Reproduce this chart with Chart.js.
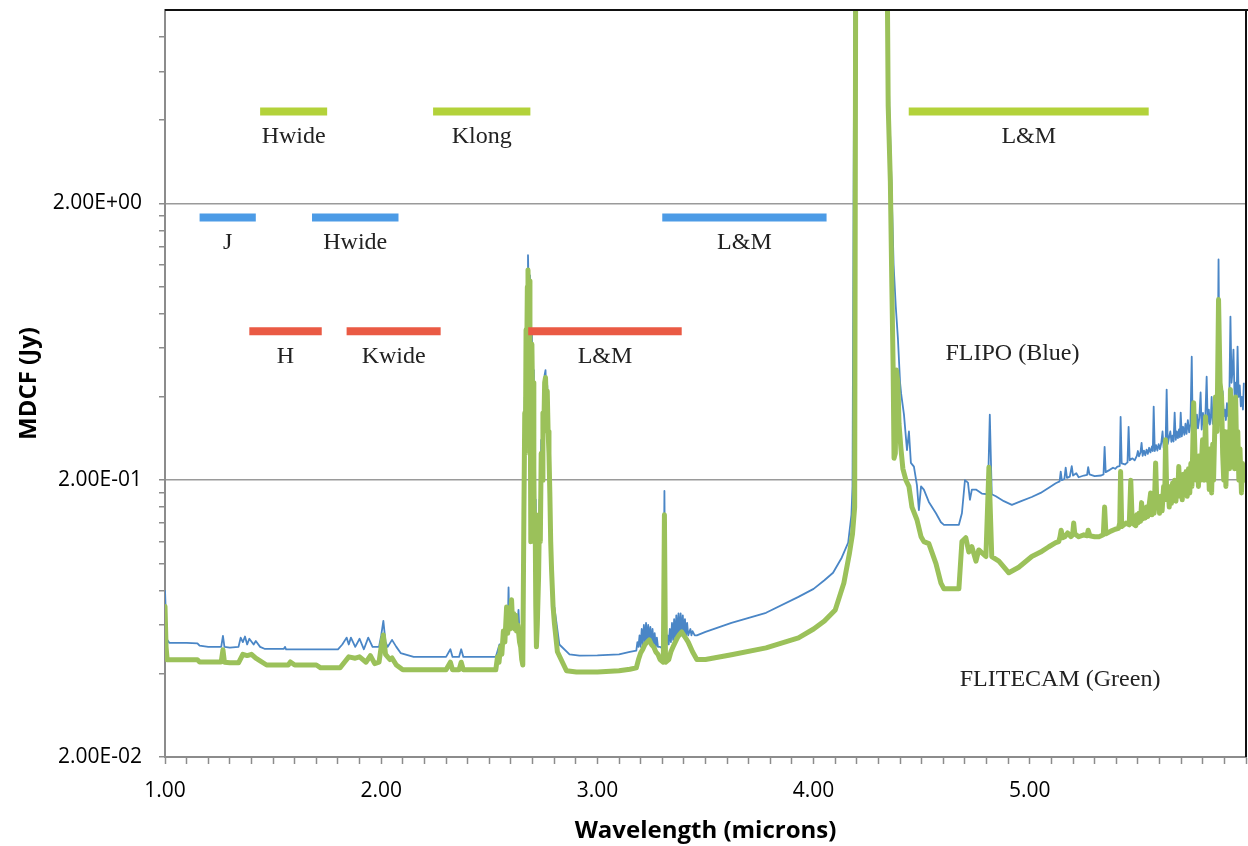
<!DOCTYPE html>
<html>
<head>
<meta charset="utf-8">
<script src="https://cdn.jsdelivr.net/npm/chart.js@4.4.1/dist/chart.umd.min.js"></script>
<style>
html,body{margin:0;padding:0;background:#ffffff;}
#wrap{width:1248px;height:846px;position:relative;}
canvas{display:block;}
</style>
</head>
<body>
<div id="wrap"><canvas id="c" width="1248" height="846"></canvas></div>
<script>
// ---------- DATA ----------
const flipoWavelength = [
1.000,1.005,1.010,1.020,1.100,1.150,1.160,1.200,1.260,1.268,1.275,1.300,1.340,1.350,1.360,1.370,1.380,1.390,1.410,1.420,
1.440,1.460,1.550,1.555,1.560,1.800,1.820,1.840,1.850,1.860,1.880,1.900,1.920,1.940,1.960,1.990,2.000,2.010,2.020,2.030,
2.050,2.070,2.090,2.150,2.300,2.320,2.330,2.360,2.370,2.380,2.530,
2.547,2.555,2.562,2.570,2.578,2.585,2.589,2.593,2.598,2.603,2.607,2.612,2.617,2.621,2.626,2.630,2.635,2.640,2.645,2.649,2.655,
2.660,2.664,2.667,2.670,2.673,2.676,2.679,2.682,2.685,2.688,2.690,2.692,2.694,2.697,2.700,2.703,2.706,2.709,2.712,2.715,2.720,
2.724,2.728,2.732,2.736,2.740,2.744,2.748,2.752,2.756,2.760,2.764,2.768,2.772,2.776,2.780,2.784,2.788,2.795,2.806,2.824,
2.871,2.917,3.000,3.100,3.150,3.180,
3.185,3.190,3.195,3.200,3.205,3.210,3.215,3.220,3.225,3.230,3.235,3.240,3.245,3.250,3.255,3.260,3.265,3.270,3.275,3.280,3.290,3.305,3.310,3.315,
3.320,3.325,3.330,3.335,3.340,3.345,3.350,3.355,3.360,3.365,3.370,3.375,3.380,3.385,3.390,3.395,3.400,3.405,3.410,3.415,3.420,3.430,3.435,3.440,3.450,3.460,
3.500,3.620,3.780,3.930,4.000,4.050,4.090,4.130,4.160,4.175,4.180,4.185,4.190,
4.339,4.350,4.360,4.370,4.380,4.390,4.400,4.405,4.418,4.432,4.441,4.450,4.464,4.478,4.487,4.497,4.510,4.533,4.566,4.589,
4.603,4.672,4.686,4.700,4.714,4.723,4.732,4.751,4.778,4.806,4.815,4.824,4.843,4.880,4.917,
4.960,5.009,5.050,5.088,5.120,5.138,5.143,5.148,5.160,5.166,5.172,5.185,5.194,5.200,5.215,5.226,5.250,5.265,5.270,5.276,
5.300,5.330,5.341,5.346,5.351,5.370,5.385,5.395,5.405,5.416,5.420,5.425,5.440,5.452,5.457,5.462,5.475,5.485,
5.495,5.500,5.505,5.512,5.517,5.522,5.528,5.534,5.540,5.546,
5.552,5.558,5.565,5.569,5.573,5.578,5.584,5.590,5.596,5.602,
5.608,5.614,5.619,5.624,5.628,5.633,5.638,5.644,5.650,5.655,
5.660,5.665,5.670,5.675,5.680,5.685,5.690,5.694,5.698,5.703,
5.709,5.715,5.720,5.725,5.731,5.737,5.743,5.749,5.753,5.758,
5.763,5.768,5.773,5.778,5.784,5.790,5.795,5.801,5.806,5.812,
5.818,5.823,5.828,5.833,5.838,5.841,5.846,5.852,5.858,5.864,
5.869,5.873,5.877,5.882,5.887,5.892,5.897,5.902,5.907,5.912,
5.917,5.923,5.928,5.933,5.938,5.942,5.947,5.952,5.956,5.961,
5.966,5.971,5.976,5.981,5.986,5.990
];
const flipoMdcf = [
0.080,0.062,0.053,0.0517,0.0517,0.0515,0.0505,0.0500,0.0500,0.0548,0.0500,0.0497,0.0500,0.0540,0.0520,0.0545,0.0510,0.0535,0.0510,0.0525,
0.0500,0.0492,0.0492,0.0500,0.0490,0.0490,0.0510,0.0540,0.0510,0.0540,0.0500,0.0535,0.0490,0.0540,0.0500,0.0500,0.0550,0.0621,0.0520,0.0500,
0.0530,0.0500,0.0475,0.0460,0.0460,0.0490,0.0460,0.0460,0.0490,0.0460,0.0460,
0.051,0.049,0.054,0.052,0.060,0.056,0.082,0.058,0.064,0.058,0.069,0.060,0.066,0.058,0.064,0.057,0.068,0.055,0.053,0.051,0.050,
0.20,0.40,0.30,0.80,0.65,1.10,1.30,1.00,1.10,0.70,0.35,0.15,0.55,0.70,0.45,0.50,0.25,0.15,0.17,0.08,0.05,
0.06,0.10,0.17,0.14,0.28,0.22,0.38,0.33,0.48,0.50,0.40,0.44,0.33,0.28,0.20,0.14,0.10,0.075,0.065,0.051,
0.0470,0.0465,0.0466,0.0470,0.0480,0.0485,
0.052,0.050,0.055,0.050,0.058,0.051,0.060,0.052,0.061,0.052,0.060,0.052,0.059,0.051,0.058,0.051,0.056,0.050,0.054,0.050,0.050,0.049,0.183,0.050,
0.051,0.055,0.051,0.058,0.052,0.061,0.053,0.063,0.053,0.065,0.054,0.066,0.055,0.066,0.055,0.065,0.055,0.063,0.055,0.061,0.055,0.058,0.055,0.057,0.055,0.055,
0.0566,0.0610,0.0664,0.0758,0.0810,0.0870,0.0926,0.105,0.119,0.150,0.190,2.2,20,
20,4.5,2.4,1.2,0.85,0.65,0.45,0.41,0.345,0.257,0.300,0.231,0.224,0.192,0.156,0.190,0.185,0.167,0.152,0.141,
0.138,0.138,0.152,0.200,0.196,0.170,0.185,0.185,0.179,0.178,0.345,0.178,0.175,0.168,0.163,
0.168,0.174,0.180,0.188,0.195,0.198,0.215,0.200,0.202,0.222,0.204,0.206,0.225,0.208,0.212,0.205,0.208,0.209,0.223,0.210,
0.207,0.208,0.210,0.264,0.214,0.218,0.222,0.220,0.224,0.225,0.339,0.230,0.228,0.232,0.312,0.236,0.240,0.236,
0.245,0.255,0.244,0.252,0.273,0.245,0.256,0.246,0.258,0.249,
0.262,0.252,0.265,0.255,0.369,0.255,0.268,0.256,0.270,0.259,
0.272,0.300,0.262,0.278,0.265,0.425,0.270,0.285,0.300,0.275,
0.290,0.276,0.351,0.280,0.300,0.284,0.305,0.286,0.351,0.288,
0.312,0.292,0.320,0.294,0.330,0.298,0.320,0.559,0.330,0.300,
0.340,0.305,0.345,0.308,0.335,0.415,0.305,0.350,0.310,0.340,
0.473,0.320,0.360,0.318,0.345,0.400,0.320,0.360,0.325,0.380,
0.500,1.255,0.500,0.450,0.380,0.420,0.340,0.360,0.330,0.380,
0.340,0.400,0.780,0.450,0.500,0.593,0.400,0.450,0.370,0.608,
0.400,0.440,0.370,0.400,0.360,0.450
];
const flitecamWavelength = [
1.000,1.005,1.010,1.150,1.160,1.260,1.268,1.275,1.300,1.340,1.360,1.380,1.400,1.420,1.440,1.470,1.570,1.580,1.600,1.700,
1.720,1.810,1.830,1.850,1.880,1.900,1.930,1.950,1.970,1.990,2.000,2.010,2.020,2.040,2.050,2.070,2.100,2.300,2.320,2.330,
2.360,2.370,2.380,2.530,
2.538,2.545,2.552,2.558,2.565,2.572,2.580,2.585,2.590,2.595,2.603,2.608,2.613,2.617,2.622,2.626,2.632,2.640,2.645,2.650,2.655,
2.660,2.664,2.667,2.670,2.673,2.676,2.679,2.682,2.685,2.688,2.690,2.692,2.694,2.697,2.700,2.703,2.706,2.709,2.712,2.715,2.718,
2.722,2.728,2.732,2.736,2.740,2.744,2.748,2.752,2.756,2.760,2.764,2.768,2.772,2.776,2.780,2.784,2.788,2.795,2.801,2.815,
2.857,2.903,3.000,3.100,3.150,3.180,
3.190,3.200,3.210,3.220,3.230,3.240,3.250,3.260,3.270,3.280,3.290,3.305,3.310,3.315,
3.330,3.340,3.350,3.360,3.370,3.380,3.390,3.400,3.410,3.420,3.440,3.460,3.500,
3.620,3.780,3.930,4.000,4.050,4.100,4.140,4.165,4.180,4.190,4.195,
4.339,4.345,4.355,4.362,4.368,4.372,4.378,4.383,4.390,4.395,4.404,4.413,4.427,4.441,4.455,4.478,4.497,4.510,4.533,4.566,
4.589,4.603,4.672,4.686,4.704,4.718,4.732,4.751,4.764,4.797,4.811,4.824,4.857,4.903,
4.949,5.009,5.050,5.088,5.120,5.134,5.140,5.145,5.152,5.162,5.175,5.190,5.198,5.203,5.208,5.226,5.250,5.265,5.270,5.278,
5.300,5.320,5.340,5.346,5.352,5.375,5.395,5.410,5.416,5.420,5.425,5.445,5.460,5.467,5.474,
5.490,5.495,5.500,5.505,5.512,5.517,5.522,5.528,5.534,5.540,
5.546,5.553,5.559,5.565,5.570,5.575,5.582,5.588,5.594,5.600,
5.606,5.612,5.619,5.624,5.628,5.634,5.640,5.645,5.650,5.655,
5.660,5.664,5.670,5.676,5.680,5.684,5.689,5.695,5.700,5.705,
5.711,5.718,5.723,5.728,5.734,5.740,5.745,5.750,5.758,5.764,
5.770,5.775,5.780,5.785,5.790,5.799,5.806,5.813,5.819,5.825,
5.830,5.836,5.841,5.846,5.850,5.859,5.866,5.873,5.880,5.887,
5.892,5.897,5.902,5.907,5.912,5.919,5.924,5.928,5.934,5.938,
5.942,5.947,5.952,5.958,5.962,5.967,5.972,5.979,5.984,5.990
];
const flitecamMdcf = [
0.070,0.050,0.0449,0.0449,0.0441,0.0441,0.0488,0.0440,0.0438,0.0438,0.0470,0.0465,0.0470,0.0455,0.0445,0.0430,0.0430,0.0441,0.0430,0.0430,
0.0420,0.0420,0.0440,0.0460,0.0455,0.0460,0.0440,0.0465,0.0435,0.0440,0.0500,0.0552,0.0470,0.0450,0.0456,0.0430,0.0413,0.0413,0.0440,0.0413,
0.0413,0.0440,0.0413,0.0413,
0.046,0.044,0.050,0.047,0.057,0.052,0.0697,0.056,0.065,0.058,0.074,0.060,0.066,0.058,0.065,0.057,0.060,0.052,0.050,0.045,0.043,
0.15,0.35,0.25,0.70,0.55,1.00,1.15,0.90,1.05,0.60,0.30,0.12,0.50,0.62,0.40,0.45,0.22,0.12,0.15,0.07,0.05,
0.06,0.09,0.15,0.12,0.25,0.20,0.35,0.30,0.45,0.47,0.38,0.42,0.30,0.25,0.18,0.12,0.095,0.07,0.061,0.048,
0.0410,0.0406,0.0406,0.0410,0.0415,0.0420,
0.0450,0.0475,0.0490,0.0510,0.0520,0.0530,0.0510,0.0500,0.0480,0.0470,0.0450,0.0440,0.150,0.0440,
0.0450,0.0480,0.0500,0.0520,0.0540,0.0555,0.0566,0.0550,0.0535,0.0520,0.0480,0.0450,0.0450,
0.0468,0.0496,0.0539,0.0580,0.0620,0.0680,0.0850,0.108,0.128,0.160,20,
20,4.5,2.4,1.0,0.50,0.24,0.25,0.50,0.45,0.32,0.26,0.22,0.20,0.19,0.16,0.144,0.125,0.120,0.118,0.100,
0.085,0.081,0.081,0.120,0.124,0.110,0.115,0.102,0.112,0.106,0.223,0.106,0.102,0.0926,
0.097,0.106,0.110,0.115,0.119,0.120,0.125,0.132,0.124,0.125,0.129,0.125,0.127,0.140,0.128,0.125,0.127,0.126,0.132,0.126,
0.125,0.125,0.127,0.160,0.128,0.131,0.133,0.134,0.140,0.215,0.136,0.140,0.138,0.200,0.140,
0.137,0.150,0.140,0.152,0.142,0.166,0.145,0.158,0.146,0.160,
0.148,0.165,0.180,0.150,0.168,0.152,0.231,0.160,0.172,0.152,
0.175,0.155,0.190,0.170,0.280,0.170,0.185,0.160,0.190,0.165,
0.195,0.170,0.200,0.168,0.195,0.175,0.224,0.175,0.205,0.170,
0.210,0.180,0.215,0.175,0.220,0.180,0.230,0.190,0.381,0.250,
0.200,0.240,0.190,0.245,0.200,0.280,0.200,0.339,0.200,0.250,
0.185,0.260,0.180,0.270,0.200,0.400,0.300,0.900,0.450,0.400,
0.250,0.200,0.300,0.190,0.260,0.300,0.220,0.425,0.250,0.300,
0.350,0.220,0.400,0.220,0.300,0.200,0.260,0.180,0.230,0.200
];

// Filter bands (wavelength ranges in microns, plotted at a fixed MDCF level)
const flitecamFilterNames = ['Hwide', 'Klong', 'L&M'];
const flitecamFilterStart = [1.44, 2.24, 4.44];
const flitecamFilterEnd   = [1.75, 2.69, 5.55];
const flitecamFilterLevel = 4.3;

const flipoBlueFilterNames = ['J', 'Hwide', 'L&M'];
const flipoBlueFilterStart = [1.16, 1.68, 3.30];
const flipoBlueFilterEnd   = [1.42, 2.08, 4.06];
const flipoBlueFilterLevel = 1.78;

const flipoRedFilterNames = ['H', 'Kwide', 'L&M'];
const flipoRedFilterStart = [1.39, 1.84, 2.68];
const flipoRedFilterEnd   = [1.725, 2.275, 3.39];
const flipoRedFilterLevel = 0.69;

// Axis ticks
const yMajorTicks = [0.02, 0.2, 2];
const yMinorTicks = [0.04, 0.06, 0.08, 0.1, 0.12, 0.14, 0.16, 0.18, 0.4, 0.6, 0.8, 1.0, 1.2, 1.4, 1.6, 1.8, 4, 6, 8];
const xMajorTicks = [1, 2, 3, 4, 5];

// Instrument notes
const instrumentNotes = ['FLIPO (Blue)', 'FLITECAM (Green)'];
const instrumentNoteAt = [[4.92, 0.545], [5.14, 0.0361]];

// ---------- STYLE ----------
const COLORS = {
  flipoLine: '#4a86c6',
  flitecamLine: '#9bc15a',
  flitecamBar: '#b3d23a',
  flipoBlueBar: '#4c9be6',
  flipoRedBar: '#ea5a44',
  grid: '#9a9a9a',
  axis: '#8c8c8c'
};
const SANS = "'Open Sans', 'DejaVu Sans', sans-serif";
const SERIF = "'Liberation Serif', 'DejaVu Serif', serif";

function toPoints(xs, ys) { return xs.map((v, i) => ({ x: v, y: ys[i] })); }

const filterGroups = [
  { names: flitecamFilterNames, start: flitecamFilterStart, end: flitecamFilterEnd, level: flitecamFilterLevel, color: COLORS.flitecamBar },
  { names: flipoBlueFilterNames, start: flipoBlueFilterStart, end: flipoBlueFilterEnd, level: flipoBlueFilterLevel, color: COLORS.flipoBlueBar },
  { names: flipoRedFilterNames, start: flipoRedFilterStart, end: flipoRedFilterEnd, level: flipoRedFilterLevel, color: COLORS.flipoRedBar }
];

const datasets = [];
filterGroups.forEach(g => {
  g.names.forEach((n, i) => {
    datasets.push({
      label: n,
      data: [{ x: g.start[i], y: g.level }, { x: g.end[i], y: g.level }],
      borderColor: g.color,
      borderWidth: 8,
      borderCapStyle: 'butt',
      pointRadius: 0,
      order: 0
    });
  });
});
datasets.push({
  label: 'FLITECAM',
  data: toPoints(flitecamWavelength, flitecamMdcf),
  borderColor: COLORS.flitecamLine,
  borderWidth: 5,
  borderJoinStyle: 'round',
  borderCapStyle: 'round',
  pointRadius: 0,
  order: 1
});
datasets.push({
  label: 'FLIPO',
  data: toPoints(flipoWavelength, flipoMdcf),
  borderColor: COLORS.flipoLine,
  borderWidth: 1.8,
  borderJoinStyle: 'round',
  pointRadius: 0,
  order: 2
});

function fmtE(v) {
  const parts = v.toExponential(2).split('e');
  const sign = parts[1][0] === '-' ? '-' : '+';
  const digits = parts[1].replace(/[+-]/, '').padStart(2, '0');
  return parts[0] + 'E' + sign + digits;
}

const overlay = {
  id: 'overlay',
  afterDatasetsDraw(chart) {
    const { ctx, chartArea: a, scales: { x, y } } = chart;
    ctx.save();
    ctx.strokeStyle = '#111';
    ctx.lineWidth = 2;
    ctx.beginPath();
    ctx.moveTo(a.left, a.top);
    ctx.lineTo(a.right + 2, a.top);
    ctx.moveTo(a.right, a.top);
    ctx.lineTo(a.right, a.bottom);
    ctx.stroke();

    ctx.font = '24px ' + SERIF;
    ctx.fillStyle = '#222';
    ctx.textAlign = 'center';
    ctx.textBaseline = 'alphabetic';
    filterGroups.forEach(g => {
      g.names.forEach((n, i) => {
        const px = x.getPixelForValue((g.start[i] + g.end[i]) / 2);
        const py = y.getPixelForValue(g.level) + 32;
        ctx.fillText(n, px, py);
      });
    });
    instrumentNotes.forEach((t, i) => {
      ctx.fillText(t, x.getPixelForValue(instrumentNoteAt[i][0]), y.getPixelForValue(instrumentNoteAt[i][1]));
    });
    ctx.restore();
  }
};

new Chart(document.getElementById('c'), {
  type: 'line',
  data: { datasets },
  options: {
    responsive: false,
    devicePixelRatio: 1,
    animation: false,
    layout: { padding: { top: 10, right: 2, left: 0, bottom: 0 } },
    plugins: { legend: { display: false }, tooltip: { enabled: false } },
    elements: { line: { tension: 0 } },
    scales: {
      x: {
        type: 'linear',
        min: 1,
        max: 6,
        afterFit(s) { s.height = 89; s.paddingLeft = 0; s.paddingRight = 0; },
        ticks: {
          stepSize: 0.1,
          autoSkip: false,
          maxRotation: 0,
          padding: 14,
          color: '#000',
          font: { family: SANS, size: 21 },
          callback(v) {
            const r = Math.round(v);
            return (Math.abs(v - r) < 1e-6 && xMajorTicks.includes(r)) ? r.toFixed(2) : '';
          }
        },
        grid: { drawOnChartArea: false, drawTicks: true, tickLength: 7, tickColor: COLORS.axis, tickWidth: 1.5 },
        border: { display: true, color: COLORS.axis, width: 2 },
        title: {
          display: true,
          text: 'Wavelength (microns)',
          color: '#000',
          font: { family: SANS, size: 24, weight: 'bold' },
          padding: { top: 0, bottom: 0 }
        }
      },
      y: {
        type: 'logarithmic',
        min: 0.02,
        max: 10,
        afterFit(s) { s.width = 165; s.paddingTop = 0; s.paddingBottom = 0; },
        afterBuildTicks(s) {
          s.ticks = yMajorTicks.concat(yMinorTicks).sort((a, b) => a - b).map(v => ({ value: v, major: yMajorTicks.includes(v) }));
        },
        ticks: {
          autoSkip: false,
          padding: 17,
          color: '#000',
          font: { family: SANS, size: 21 },
          callback(v) { return yMajorTicks.includes(v) ? fmtE(v) : ''; }
        },
        grid: {
          drawOnChartArea: true,
          drawTicks: true,
          tickLength: 6,
          tickWidth: 1.5,
          tickColor: COLORS.axis,
          lineWidth: 1.5,
          color(ctx) {
            const v = ctx.tick && ctx.tick.value;
            return (v === 0.2 || v === 2) ? COLORS.grid : 'rgba(0,0,0,0)';
          }
        },
        border: { display: true, color: COLORS.axis, width: 2 },
        title: {
          display: true,
          text: 'MDCF (Jy)',
          color: '#000',
          font: { family: SANS, size: 24, weight: 'bold' },
          padding: { top: 15, bottom: 0 }
        }
      }
    }
  },
  plugins: [overlay]
});
</script>
</body>
</html>
